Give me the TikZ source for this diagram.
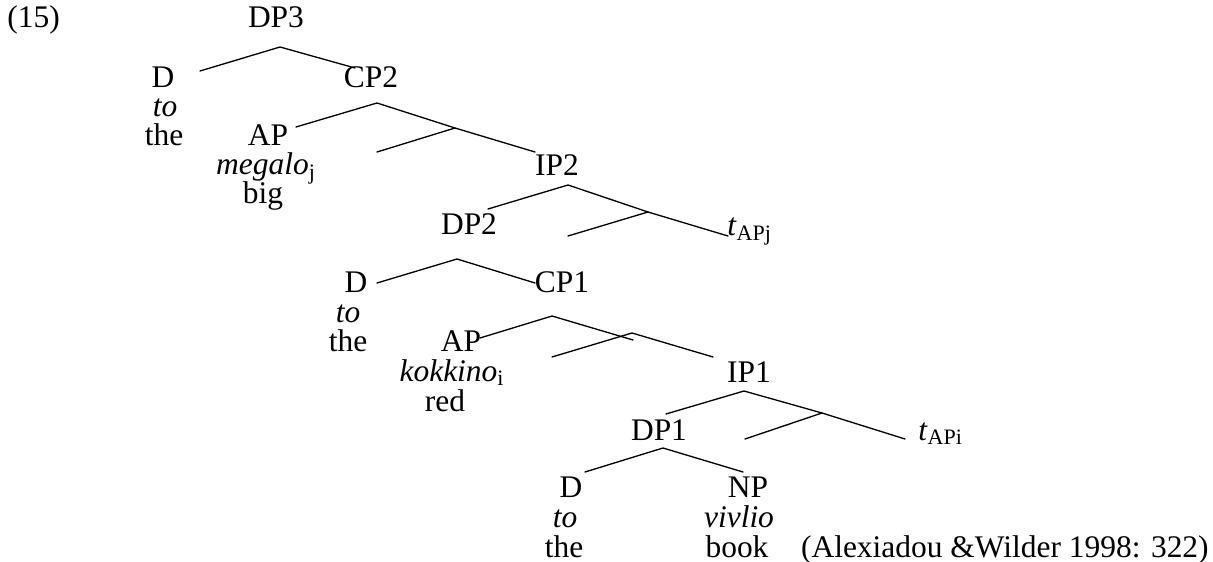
\documentclass[tikz,border=0pt]{standalone}
\usepackage{fontspec}
\setmainfont{Liberation Serif}
\usepackage{tikz}

\begin{document}
\begin{tikzpicture}[every node/.style={anchor=base, inner sep=0pt, text depth=0pt, font=\fontsize{17.9}{19}\selectfont},
  branch/.style={line width=0.75pt, line cap=round}]

\useasboundingbox (0,0) rectangle (24.26,-11.24);

\node [anchor=base west] (ex) at (0.14,-0.56) {(15)};

% DP3
\node (dpthree) at (5.52,-0.56) {DP3};
\coordinate (dpthreetop) at (5.60,-0.94);
\coordinate (dthreeend) at (4.00,-1.42);
\coordinate (cptwoend) at (7.10,-1.36);
\node (dthree) at (3.26,-1.76) {D};
\node (tothree) at (3.30,-2.34) {\textit{to}};
\node (thethree) at (3.28,-2.92) {the};
\node (cptwo) at (7.42,-1.76) {CP2};

\draw[branch] (dthreeend) -- (dpthreetop) -- (cptwoend);

% CP2
\coordinate (cptwotop) at (7.54,-2.06);
\coordinate (aptwoend) at (5.92,-2.54);
\coordinate (cbartwo) at (9.10,-2.56);
\coordinate (cheadtwo) at (7.54,-3.04);
\coordinate (iptwoend) at (10.70,-3.04);
\node (aptwo) at (5.36,-2.92) {AP};
\node (megalo) at (5.32,-3.50) {\textit{megalo}\textsubscript{j}};
\node (big) at (5.26,-4.08) {big};
\node (iptwo) at (11.14,-3.52) {IP2};

\draw[branch] (aptwoend) -- (cptwotop) -- (cbartwo) -- (iptwoend);
\draw[branch] (cheadtwo) -- (cbartwo);

% IP2
\coordinate (iptwotop) at (11.36,-3.70);
\coordinate (dptwoend) at (9.76,-4.18);
\coordinate (ibartwo) at (12.96,-4.24);
\coordinate (iheadtwo) at (11.36,-4.72);
\coordinate (tracetwoend) at (14.56,-4.72);
\node (dptwo) at (9.38,-4.70) {DP2};
\node [anchor=base west] (tracetwo) at (14.54,-4.72) {\textit{t}\textsubscript{APj}};

\draw[branch] (dptwoend) -- (iptwotop) -- (ibartwo) -- (tracetwoend);
\draw[branch] (iheadtwo) -- (ibartwo);

% DP2
\coordinate (dptwotop) at (9.14,-5.18);
\coordinate (dtwoend) at (7.54,-5.66);
\coordinate (cponeend) at (10.70,-5.66);
\node (dtwo) at (7.12,-5.86) {D};
\node (totwo) at (6.96,-6.44) {\textit{to}};
\node (thetwo) at (6.96,-7.04) {the};
\node (cpone) at (11.24,-5.86) {CP1};

\draw[branch] (dtwoend) -- (dptwotop) -- (cponeend);

% CP1
\coordinate (cponetop) at (11.04,-6.32);
\coordinate (aponeend) at (9.60,-6.76);
\coordinate (cbarover) at (12.66,-6.80);
\coordinate (cbarone) at (12.64,-6.66);
\coordinate (cheadone) at (11.04,-7.14);
\coordinate (iponeend) at (14.26,-7.14);
\node (apone) at (9.22,-7.04) {AP};
\node (kokkino) at (9.04,-7.62) {\textit{kokkino}\textsubscript{i}};
\node (red) at (8.90,-8.23) {red};
\node (ipone) at (14.98,-7.64) {IP1};

\draw[branch] (aponeend) -- (cponetop) -- (cbarover);
\draw[branch] (cheadone) -- (cbarone) -- (iponeend);

% IP1
\coordinate (iponetop) at (14.88,-7.82);
\coordinate (dponeend) at (13.32,-8.28);
\coordinate (ibarone) at (16.44,-8.26);
\coordinate (iheadone) at (14.90,-8.78);
\coordinate (traceoneend) at (18.10,-8.78);
\node (dpone) at (13.18,-8.80) {DP1};
\node [anchor=base west] (traceone) at (18.36,-8.80) {\textit{t}\textsubscript{APi}};

\draw[branch] (dponeend) -- (iponetop) -- (ibarone) -- (traceoneend);
\draw[branch] (iheadone) -- (ibarone);

% DP1
\coordinate (dponetop) at (13.26,-8.96);
\coordinate (doneend) at (11.70,-9.44);
\coordinate (npend) at (14.86,-9.44);
\node (done) at (11.42,-9.94) {D};
\node (toone) at (11.30,-10.54) {\textit{to}};
\node (theone) at (11.28,-11.14) {the};
\node (np) at (14.96,-9.94) {NP};
\node (vivlio) at (14.78,-10.54) {\textit{vivlio}};
\node (book) at (14.74,-11.14) {book};

\draw[branch] (doneend) -- (dponetop) -- (npend);

\node [anchor=base east] (source) at (24.18,-11.14) {(Alexiadou \&Wilder 1998: 322)};

\end{tikzpicture}
\end{document}
